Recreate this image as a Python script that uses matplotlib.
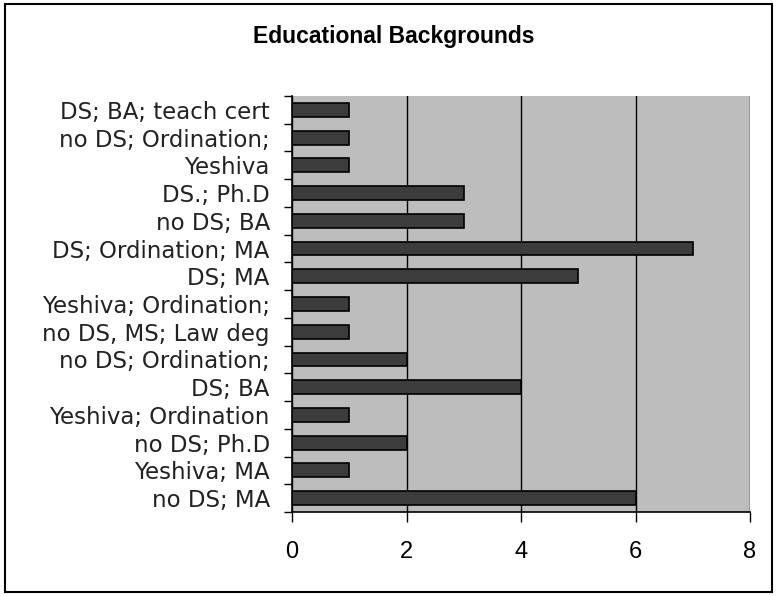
import numpy as np
import matplotlib.pyplot as plt
from matplotlib.patches import Rectangle

plt.rcParams['font.family'] = ['Liberation Sans', 'DejaVu Sans']

# categories listed bottom to top
categories = ['no DS; MA', 'Yeshiva; MA', 'no DS; Ph.D', 'Yeshiva; Ordination',
              'DS; BA', 'no DS; Ordination;', 'no DS, MS; Law deg',
              'Yeshiva; Ordination;', 'DS; MA', 'DS; Ordination; MA',
              'no DS; BA', 'DS.; Ph.D', 'Yeshiva', 'no DS; Ordination;',
              'DS; BA; teach cert']
counts = [6, 1, 2, 1, 4, 2, 1, 1, 5, 7, 3, 3, 1, 1, 1]
xticks = [0, 2, 4, 6, 8]

fig = plt.figure(figsize=(7.76, 5.96), dpi=100)
fig.patches.append(Rectangle((5 / 776, 4 / 596), 767 / 776, 588 / 596,
                             transform=fig.transFigure, fill=False,
                             edgecolor='black', linewidth=1.5))

ax = fig.add_axes([292 / 776, 1 - 512 / 596, 458 / 776, 416 / 596])
ax.set_facecolor('#bdbdbd')

y = np.arange(len(categories))
ax.barh(y, counts, height=0.5, color='#3c3c3c', edgecolor='black',
        linewidth=1.2, zorder=3)

ax.set_xlim(0, 8)
ax.set_ylim(-0.5, len(categories) - 0.5)
ax.set_xticks(xticks)
ax.set_xticklabels([str(v) for v in xticks], fontsize=17)
ax.xaxis.grid(True, color='black', linewidth=1)
ax.set_axisbelow(True)

# category ticks sit between bars; the source font is wide, DejaVu is closer
ax.set_yticks(y)
ax.set_yticklabels(categories, fontsize=16.5, family=['DejaVu Sans'],
                   color='#222222')
ax.set_yticks(np.arange(len(categories) + 1) - 0.5, minor=True)
ax.tick_params(axis='y', which='major', length=0, pad=16)
ax.tick_params(axis='y', which='minor', length=6, width=1, direction='out')
ax.tick_params(axis='x', length=7, width=1, direction='out', pad=14)

for side in ['top', 'right']:
    ax.spines[side].set_visible(False)
for side in ['left', 'bottom']:
    ax.spines[side].set_linewidth(1.2)

fig.text(394 / 776, 1 - 37 / 596, 'Educational Backgrounds', ha='center',
         va='center', fontsize=16.5, fontweight='bold')

fig.savefig('out.png', dpi=100)
